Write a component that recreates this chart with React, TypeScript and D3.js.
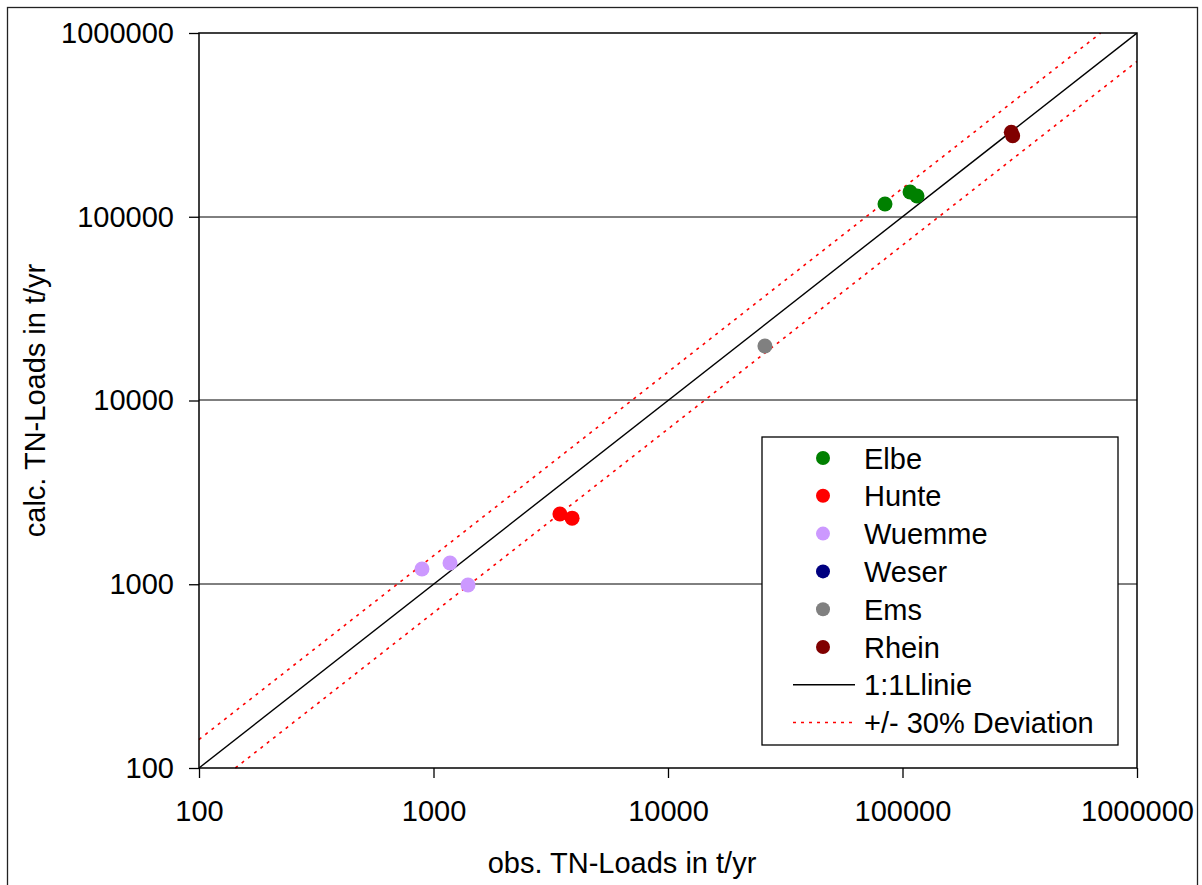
import React, { useEffect, useRef } from 'react';
import * as d3 from 'd3';

// observed / calculated TN loads (t/yr) per river
const elbeObs = [84200, 107700, 115300];
const elbeCalc = [117300, 136400, 129700];
const hunteObs = [3460, 3900];
const hunteCalc = [2410, 2290];
const wuemmeObs = [893, 1176, 1403];
const wuemmeCalc = [1211, 1306, 991];
const weserObs: number[] = [];
const weserCalc: number[] = [];
const emsObs = [25900];
const emsCalc = [19800];
const rheinObs = [291000, 295000];
const rheinCalc = [288000, 276000];

const seriesNames = ['Elbe', 'Hunte', 'Wuemme', 'Weser', 'Ems', 'Rhein'];
const seriesColors = ['#008000', '#ff0000', '#cc99ff', '#000080', '#808080', '#800000'];

// reference lines: 1:1 and +/- 30%
const oneToOneX = [100, 1000000];
const oneToOneY = [100, 1000000];
const upperX = [100, 700000];
const upperY = [142.9, 1000000];
const lowerX = [142.9, 1000000];
const lowerY = [100, 700000];

const tickValues = [100, 1000, 10000, 100000, 1000000];
const gridValues = [1000, 10000, 100000];

const App = () => {
  const ref = useRef<SVGSVGElement>(null);

  useEffect(() => {
    var w = 1202,
      h = 885;
    var margin = { top: 33, right: 65, bottom: 117, left: 199 };
    var font = '"Liberation Sans", Arial, sans-serif';

    const svg = d3.select(ref.current);
    svg.selectAll('*').remove();

    var x = d3.scaleLog().domain([100, 1000000]).range([margin.left, w - margin.right]);
    var y = d3.scaleLog().domain([100, 1000000]).range([h - margin.bottom, margin.top]);

    // outer chart border
    svg.append('rect')
      .attr('x', 7.5).attr('y', 7.5)
      .attr('width', 1190).attr('height', 890)
      .attr('fill', '#fff').attr('stroke', '#222').attr('stroke-width', 1.3);

    // grid lines
    svg.append('g').selectAll('line')
      .data(gridValues)
      .enter().append('line')
      .attr('x1', x(100)).attr('x2', x(1000000))
      .attr('y1', (d) => Math.round(y(d))).attr('y2', (d) => Math.round(y(d)))
      .attr('stroke', '#000').attr('stroke-width', 1);

    // clip for series lines
    svg.append('clipPath').attr('id', 'plotClip')
      .append('rect')
      .attr('x', x(100) - 10).attr('y', y(1000000))
      .attr('width', x(1000000) - x(100) + 10).attr('height', y(100) - y(1000000) + 8);

    var line = d3.line<[number, number]>()
      .x((d) => x(d[0]))
      .y((d) => y(d[1]));

    var lines = svg.append('g').attr('clip-path', 'url(#plotClip)');
    lines.append('path')
      .attr('d', line(d3.zip(upperX, upperY) as [number, number][]))
      .attr('fill', 'none').attr('stroke', '#ff0000').attr('stroke-width', 1.6)
      .attr('stroke-dasharray', '3,5');
    lines.append('path')
      .attr('d', line(d3.zip(lowerX, lowerY) as [number, number][]))
      .attr('fill', 'none').attr('stroke', '#ff0000').attr('stroke-width', 1.6)
      .attr('stroke-dasharray', '3,5');
    lines.append('path')
      .attr('d', line(d3.zip(oneToOneX, oneToOneY) as [number, number][]))
      .attr('fill', 'none').attr('stroke', '#000').attr('stroke-width', 1.4);

    // plot area frame
    svg.append('rect')
      .attr('x', x(100)).attr('y', y(1000000))
      .attr('width', x(1000000) - x(100)).attr('height', y(100) - y(1000000))
      .attr('fill', 'none').attr('stroke', '#000').attr('stroke-width', 1.5);

    // axes
    var yAxis = svg.append('g')
      .attr('transform', 'translate(' + x(100) + ',0)')
      .call(d3.axisLeft(y).tickValues(tickValues).tickSize(10).tickPadding(15).tickFormat(d3.format('d')));
    var xAxis = svg.append('g')
      .attr('transform', 'translate(0,' + y(100) + ')')
      .call(d3.axisBottom(x).tickValues(tickValues).tickSize(10).tickPadding(22).tickFormat(d3.format('d')));
    [xAxis, yAxis].forEach((g) => {
      g.select('.domain').remove();
      g.selectAll('line').attr('stroke', '#000').attr('stroke-width', 1.3);
      g.selectAll('text')
        .attr('fill', '#000')
        .style('font-family', font)
        .style('font-size', '29px');
    });

    // points
    var obs = [elbeObs, hunteObs, wuemmeObs, weserObs, emsObs, rheinObs];
    var calc = [elbeCalc, hunteCalc, wuemmeCalc, weserCalc, emsCalc, rheinCalc];
    seriesNames.forEach((name, i) => {
      svg.append('g').selectAll('circle')
        .data(d3.zip(obs[i], calc[i]))
        .enter().append('circle')
        .attr('cx', (d) => x(d[0]))
        .attr('cy', (d) => y(d[1]))
        .attr('r', 7.5)
        .attr('fill', seriesColors[i]);
    });

    // axis titles
    svg.append('text')
      .attr('x', 622).attr('y', 873)
      .attr('text-anchor', 'middle')
      .style('font-family', font).style('font-size', '29px')
      .text('obs. TN-Loads in t/yr');
    svg.append('text')
      .attr('transform', 'translate(45,' + (y(100) + y(1000000)) / 2 + ') rotate(-90)')
      .attr('text-anchor', 'middle')
      .style('font-family', font).style('font-size', '29px')
      .text('calc. TN-Loads in t/yr');

    // legend
    var lg = svg.append('g').attr('transform', 'translate(762,437)');
    lg.append('rect')
      .attr('width', 356).attr('height', 308)
      .attr('fill', '#fff').attr('stroke', '#000').attr('stroke-width', 1.3);
    var rowH = 37.8;
    seriesNames.forEach((name, i) => {
      lg.append('circle')
        .attr('cx', 61).attr('cy', 21 + i * rowH)
        .attr('r', 7).attr('fill', seriesColors[i]);
      lg.append('text')
        .attr('x', 102).attr('y', 21 + i * rowH + 10.5)
        .style('font-family', font).style('font-size', '29px')
        .text(name);
    });
    var lineItems = [
      { label: '1:1Llinie', color: '#000', dash: null },
      { label: '+/- 30% Deviation', color: '#ff0000', dash: '3,5' },
    ];
    lineItems.forEach((item, j) => {
      var cy = 21 + (6 + j) * rowH;
      lg.append('line')
        .attr('x1', 31).attr('x2', 93)
        .attr('y1', cy).attr('y2', cy)
        .attr('stroke', item.color).attr('stroke-width', 1.5)
        .attr('stroke-dasharray', item.dash);
      lg.append('text')
        .attr('x', 102).attr('y', cy + 10.5)
        .style('font-family', font).style('font-size', '29px')
        .text(item.label);
    });
  }, []);

  return (
    <svg
      ref={ref}
      width={1202}
      height={885}
      style={{ position: 'absolute', left: 0, top: 0, background: '#fff' }}
    />
  );
};

export default App;
